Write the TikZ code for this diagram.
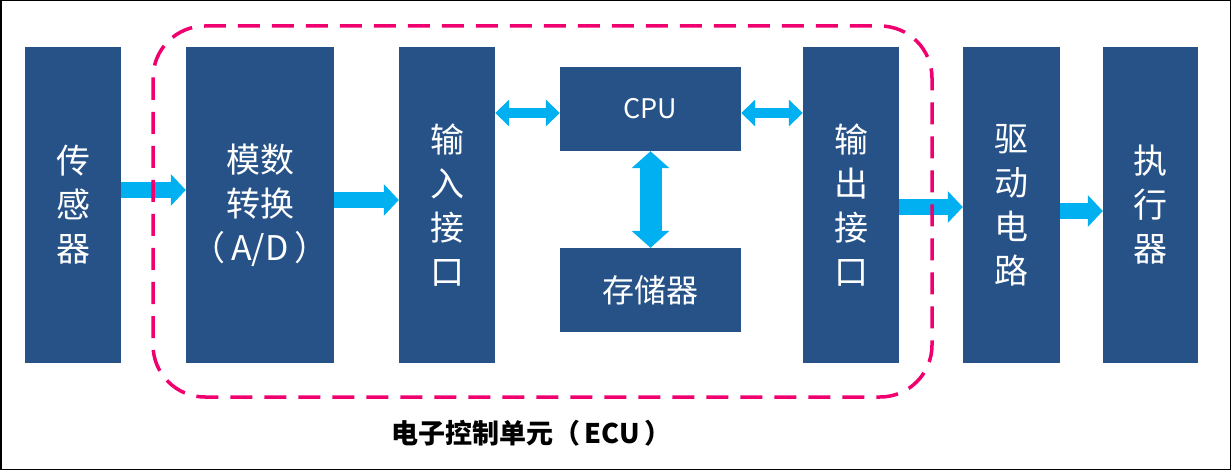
\documentclass[tikz,border=0pt]{standalone}
\usepackage{fontspec}
\setmainfont{Noto Sans CJK SC}
\usetikzlibrary{arrows.meta}
\definecolor{boxblue}{RGB}{38,82,135}
\definecolor{arrowblue}{RGB}{0,176,240}
\definecolor{ecured}{RGB}{240,0,110}
\tikzset{
	block/.style={fill=boxblue, text=white, align=center, inner sep=0pt,
		minimum width=96pt, minimum height=316pt, font=\fontsize{34}{44}\selectfont},
	unit/.style={fill=boxblue, text=white, align=center, inner sep=0pt,
		minimum width=181pt, minimum height=84pt},
	flow/.style={line width=16pt, arrowblue, -{Triangle[length=15pt,width=31pt]}},
	bus/.style={line width=10pt, arrowblue, {Triangle[length=14pt,width=26pt]}-{Triangle[length=14pt,width=26pt]}},
	membus/.style={line width=22pt, arrowblue, {Triangle[length=17pt,width=37pt]}-{Triangle[length=17pt,width=37pt]}}
}
\begin{document}
\begin{tikzpicture}[x=1pt,y=-1pt]
		
		\useasboundingbox (0,0) rectangle (1231,470);
		\draw[line width=1.5pt] (0.75,0.75) rectangle (1230.25,469.25);
		
		\node[block] (sensor) at (73,205) {传\\感\\器};
		\node[block, minimum width=148pt] (ad) at (260,205) {模数\\转换\\（\,A/D\,）};
		\node[block] (inif) at (447,205) {输\\入\\接\\口};
		\node[unit, font=\fontsize{27}{30}\selectfont] (cpu) at (650.5,109) {CPU};
		\node[unit, font=\fontsize{32}{36}\selectfont] (mem) at (650.5,290) {存储器};
		\node[block] (outif) at (851,205) {输\\出\\接\\口};
		\node[block, minimum width=97pt] (drive) at (1011.5,205) {驱\\动\\电\\路};
		\node[block, minimum width=95pt] (actor) at (1150.5,205) {执\\行\\器};
		
		\draw[flow] ([yshift=15pt]sensor.east) -- ([yshift=15pt]sensor.east -| ad.west);
		\draw[flow] ([yshift=5pt]ad.east) -- ([yshift=5pt]inif.west);
		\draw[flow] ([yshift=-2pt]outif.east) -- ([yshift=-2pt]drive.west);
		\draw[flow] ([yshift=-6pt]drive.east) -- ([yshift=-6pt]actor.west);
		\draw[bus] ([yshift=-4pt]inif.east |- cpu.west) -- ([yshift=-4pt]cpu.west);
		\draw[bus] ([yshift=-4pt]cpu.east) -- ([yshift=-4pt]outif.west |- cpu.east);
		\draw[membus] (cpu.south) -- (mem.north);
		
		% ECU
		\draw[ecured, line width=3.5pt, dash pattern=on 22pt off 12pt, rounded corners=52pt] (153,26) rectangle (932,397);
		\node[font=\fontsize{27}{30}\selectfont\bfseries] (ecu) at (531.5,433) {电子控制单元（\,ECU\,）};
		
	\end{tikzpicture}
\end{document}
